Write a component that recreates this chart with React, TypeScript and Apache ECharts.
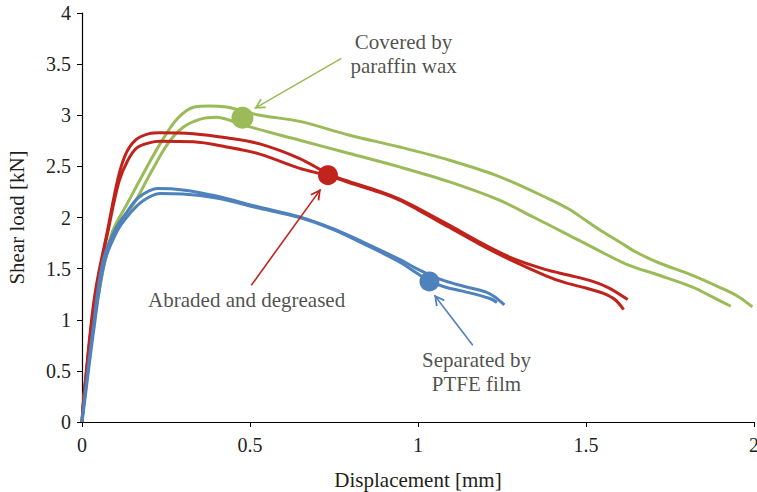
import React, { useEffect, useRef } from "react";
import * as echarts from "echarts";

// ---- data (displacement [mm], shear load [kN]) ----
const waxUpper: number[][] = [
  [0, 0], [0.006, 0.26], [0.018, 0.59], [0.0475, 1.24], [0.087, 1.83], [0.137, 2.15],
  [0.186, 2.45], [0.236, 2.74], [0.285, 2.97], [0.335, 3.08], [0.38, 3.09], [0.43, 3.08],
  [0.47, 3.05], [0.529, 3.0], [0.648, 2.94], [0.796, 2.805], [0.945, 2.69], [1.094, 2.56],
  [1.242, 2.4], [1.391, 2.18], [1.45, 2.08], [1.5, 1.97], [1.55, 1.86], [1.6, 1.76],
  [1.65, 1.66], [1.718, 1.555], [1.817, 1.435], [1.896, 1.32], [1.955, 1.223], [1.995, 1.125],
];
const waxLower: number[][] = [
  [0, 0], [0.006, 0.24], [0.018, 0.58], [0.048, 1.22], [0.09, 1.82], [0.157, 2.15],
  [0.205, 2.44], [0.255, 2.72], [0.3, 2.88], [0.35, 2.96], [0.4, 2.98], [0.45, 2.94],
  [0.5, 2.886], [0.648, 2.756], [0.796, 2.626], [0.945, 2.495], [1.094, 2.348], [1.242, 2.17],
  [1.34, 2.01], [1.44, 1.843], [1.53, 1.69], [1.619, 1.545], [1.718, 1.435], [1.817, 1.32],
  [1.876, 1.223], [1.931, 1.132],
];
const abradedUpper: number[][] = [
  [0, 0], [0.008, 0.33], [0.038, 1.24], [0.077, 1.89], [0.107, 2.38], [0.13, 2.62],
  [0.16, 2.76], [0.2, 2.82], [0.232, 2.83], [0.331, 2.82], [0.43, 2.78], [0.529, 2.72],
  [0.648, 2.577], [0.732, 2.43], [0.796, 2.35], [0.886, 2.255], [0.945, 2.18], [1.0, 2.09],
  [1.09, 1.93], [1.183, 1.76], [1.282, 1.6], [1.381, 1.49], [1.45, 1.435], [1.52, 1.375],
  [1.569, 1.31], [1.624, 1.197],
];
const abradedLower: number[][] = [
  [0, 0], [0.008, 0.33], [0.04, 1.24], [0.079, 1.89], [0.11, 2.35], [0.135, 2.55],
  [0.163, 2.68], [0.2, 2.73], [0.232, 2.745], [0.331, 2.74], [0.43, 2.69], [0.529, 2.62],
  [0.648, 2.48], [0.732, 2.41], [0.796, 2.34], [0.886, 2.245], [0.945, 2.17], [1.0, 2.075],
  [1.09, 1.91], [1.183, 1.74], [1.282, 1.575], [1.381, 1.43], [1.44, 1.36], [1.5, 1.31],
  [1.55, 1.26], [1.585, 1.2], [1.612, 1.1],
];
const ptfeUpper: number[][] = [
  [0, 0], [0.003, 0.1], [0.033, 0.914], [0.062, 1.566], [0.1, 1.89], [0.135, 2.06],
  [0.17, 2.2], [0.226, 2.284], [0.3, 2.27], [0.4, 2.21], [0.529, 2.1], [0.648, 2.006],
  [0.747, 1.89], [0.846, 1.745], [0.945, 1.59], [0.99, 1.51], [1.034, 1.44], [1.08, 1.38],
  [1.133, 1.33], [1.203, 1.27], [1.23, 1.22], [1.257, 1.145],
];
const ptfeLower: number[][] = [
  [0, 0], [0.004, 0.1], [0.035, 0.9], [0.066, 1.55], [0.105, 1.87], [0.14, 2.03],
  [0.18, 2.16], [0.232, 2.235], [0.3, 2.23], [0.4, 2.19], [0.529, 2.09], [0.648, 2.0],
  [0.747, 1.885], [0.846, 1.73], [0.945, 1.565], [0.99, 1.47], [1.034, 1.38], [1.08, 1.32],
  [1.133, 1.28], [1.212, 1.21], [1.235, 1.17],
];

// highlighted points on each group
const markerPoints: number[][] = [[0.4775, 2.975], [0.732, 2.414], [1.034, 1.375]];

// annotation labels and arrows (from text -> to point)
const labelTexts = ["Covered by\nparaffin wax", "Abraded and degreased", "Separated by\nPTFE film"];
const labelPositions: number[][] = [[0.957, 3.598], [0.49, 1.19], [1.174, 0.486]];
const arrowFrom: number[][] = [[0.772, 3.556], [0.504, 1.338], [1.163, 0.75]];
const arrowTo: number[][] = [[0.514, 3.067], [0.71, 2.275], [1.049, 1.24]];

const xTicks = { min: 0, max: 2, interval: 0.5 };
const yTicks = { min: 0, max: 4, interval: 0.5 };

const GREEN = "#9BBB59";
const RED = "#C0231B";
const BLUE = "#4F81BD";
const colors = [GREEN, RED, BLUE];
const TEXT = "#231F20";
const FONT = "'Liberation Serif', 'Times New Roman', serif";
const CHEVRON = "path://M5,0 L10,9 L8.6,9.8 L5,3.2 L1.4,9.8 L0,9 Z";

export default function App() {
  const ref = useRef<HTMLDivElement>(null);
  useEffect(() => {
    if (!ref.current) return;
    const chart = echarts.init(ref.current, null, { renderer: "svg" });
    const curve = (name: string, data: number[][], color: string) => ({
      name,
      type: "line",
      data,
      showSymbol: false,
      smooth: 0.35,
      lineStyle: { color, width: 3 },
      itemStyle: { color },
      silent: true,
    });
    const option: any = {
      animation: false,
      backgroundColor: "#ffffff",
      grid: { left: 82, right: 3, top: 13, bottom: 70, containLabel: false, outerBoundsMode: "none" },
      xAxis: {
        type: "value",
        ...xTicks,
        name: "Displacement [mm]",
        nameLocation: "middle",
        nameGap: 47,
        nameTextStyle: { fontFamily: FONT, fontSize: 21, color: TEXT },
        axisLine: { show: true, lineStyle: { color: "#000", width: 1.2 } },
        axisTick: { show: true, inside: false, length: 5, lineStyle: { color: "#000" } },
        axisLabel: { fontFamily: FONT, fontSize: 20, color: TEXT, margin: 13 },
        splitLine: { show: false },
      },
      yAxis: {
        type: "value",
        ...yTicks,
        name: "Shear load [kN]",
        nameLocation: "middle",
        nameRotate: 90,
        nameGap: 55,
        nameTextStyle: { fontFamily: FONT, fontSize: 21, color: TEXT },
        axisLine: { show: true, lineStyle: { color: "#000", width: 1.2 } },
        axisTick: { show: true, inside: false, length: 5, lineStyle: { color: "#000" } },
        axisLabel: { fontFamily: FONT, fontSize: 20, color: TEXT, margin: 11 },
        splitLine: { show: false },
      },
      series: [
        curve("Covered by paraffin wax A", waxUpper, GREEN),
        curve("Covered by paraffin wax B", waxLower, GREEN),
        curve("Abraded and degreased A", abradedUpper, RED),
        curve("Abraded and degreased B", abradedLower, RED),
        curve("Separated by PTFE film A", ptfeUpper, BLUE),
        curve("Separated by PTFE film B", ptfeLower, BLUE),
        {
          name: "markers",
          type: "scatter",
          silent: true,
          z: 5,
          data: markerPoints.map((p, i) => ({
            value: p,
            symbolSize: i === 0 ? 22 : 20,
            itemStyle: { color: colors[i], opacity: 1 },
          })),
          markLine: {
            silent: true,
            symbol: ["none", CHEVRON],
            symbolSize: [11, 11],
            symbolOffset: [0, [0, 5]],
            label: { show: false },
            data: arrowFrom.map((f, i) => [
              { coord: f, lineStyle: { color: colors[i], width: 1.6, type: "solid", opacity: 1 } },
              { coord: arrowTo[i] },
            ]),
          },
        },
        {
          name: "labels",
          type: "scatter",
          silent: true,
          symbolSize: 0,
          data: labelPositions.map((p, i) => ({ value: p, name: labelTexts[i] })),
          label: {
            show: true,
            position: "inside",
            formatter: "{b}",
            fontFamily: FONT,
            fontSize: 21,
            lineHeight: 24,
            color: TEXT,
            align: "center",
            verticalAlign: "middle",
          },
        },
      ],
    };
    chart.setOption(option);
    return () => chart.dispose();
  }, []);
  return (
    <div
      ref={ref}
      style={{ position: "fixed", left: 0, top: 0, width: 757, height: 492, background: "#fff" }}
    />
  );
}
